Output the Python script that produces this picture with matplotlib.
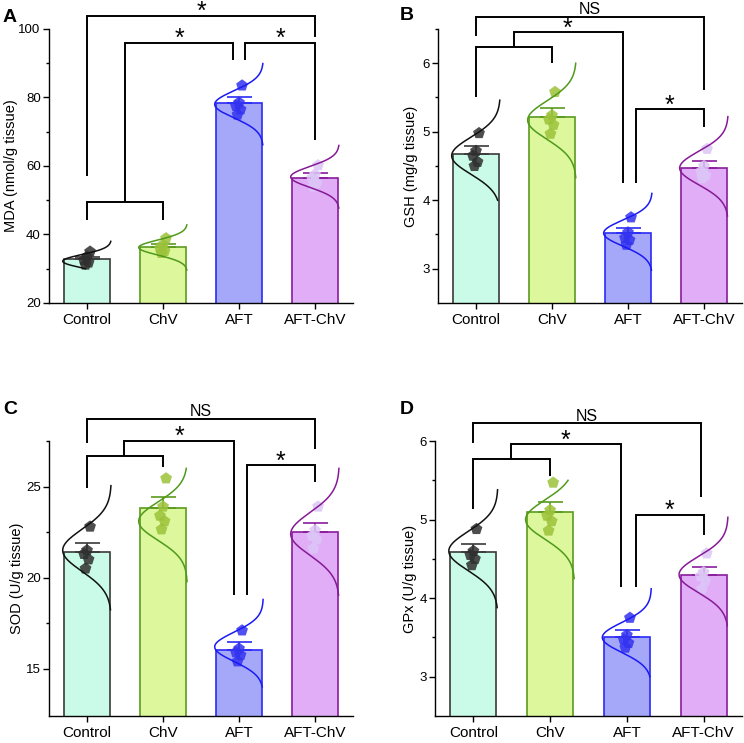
import numpy as np
import matplotlib.pyplot as plt

plt.rcParams['font.family'] = ['Liberation Sans', 'DejaVu Sans']

groups = ['Control', 'ChV', 'AFT', 'AFT-ChV']
fill_colors = ['#c9fbe8', '#ddf79c', '#a5a8f8', '#e0adf6']
edge_colors = ['#3a3a3a', '#5b9a1e', '#2b2bf5', '#8a1c9c']
curve_colors = ['#111111', '#4f9a1a', '#1a1af5', '#861a96']
point_colors = ['#2f2f2f', '#9cc23a', '#3333f0', '#dcc6f6']

# MDA (panel A)
mda_mean = [32.7, 36.3, 78.3, 56.5]
mda_err = [0.7, 0.9, 1.8, 1.4]
mda_points = [[35.0, 33.5, 32.5, 31.8, 31.2],
              [38.9, 37.0, 36.0, 35.2, 34.6],
              [83.5, 78.5, 77.5, 76.5, 75.0],
              [60.2, 57.5, 56.5, 55.0, 54.0]]
mda_curve_mu = [32.2, 36.2, 78.0, 56.8]
mda_curve_sd = [1.95, 2.2, 3.95, 3.05]
mda_curve_lo = [30.0, 29.6, 66.2, 47.7]
mda_curve_hi = [38.0, 42.8, 89.9, 66.0]

# GSH (panel B)
gsh_mean = [4.68, 5.22, 3.52, 4.47]
gsh_err = [0.11, 0.12, 0.08, 0.10]
gsh_points = [[4.98, 4.72, 4.65, 4.56, 4.50],
              [5.58, 5.24, 5.18, 5.10, 4.97],
              [3.75, 3.53, 3.45, 3.42, 3.35],
              [4.75, 4.50, 4.42, 4.36, 4.32]]
gsh_curve_mu = [4.65, 5.17, 3.52, 4.47]
gsh_curve_sd = [0.27, 0.28, 0.19, 0.245]
gsh_curve_lo = [4.0, 4.33, 2.98, 3.77]
gsh_curve_hi = [5.46, 6.0, 4.10, 5.22]

# SOD (panel C)
sod_mean = [21.42, 23.82, 16.05, 22.5]
sod_err = [0.5, 0.6, 0.4, 0.5]
sod_points = [[22.8, 21.5, 21.3, 21.0, 20.5],
              [25.45, 23.9, 23.4, 23.1, 22.65],
              [17.1, 16.1, 15.9, 15.75, 15.4],
              [23.9, 22.6, 22.3, 22.1, 21.6]]
sod_curve_mu = [21.5, 23.1, 16.2, 22.4]
sod_curve_sd = [1.15, 1.05, 0.8, 1.17]
sod_curve_lo = [18.24, 19.78, 14.0, 19.04]
sod_curve_hi = [25.05, 26.0, 18.8, 26.0]

# GPx (panel D)
gpx_mean = [4.59, 5.10, 3.51, 4.30]
gpx_err = [0.10, 0.13, 0.09, 0.10]
gpx_points = [[4.88, 4.60, 4.55, 4.50, 4.42],
              [5.47, 5.12, 5.05, 4.98, 4.86],
              [3.75, 3.53, 3.47, 3.43, 3.37],
              [4.57, 4.33, 4.28, 4.22, 4.12]]
gpx_curve_mu = [4.6, 5.0, 3.5, 4.3]
gpx_curve_sd = [0.25, 0.25, 0.19, 0.23]
gpx_curve_lo = [3.88, 4.25, 3.0, 3.65]
gpx_curve_hi = [5.38, 5.50, 4.12, 5.03]

jitter = [0.04, 0.0, -0.04, 0.02, -0.02]


def bracket(ax, pts):
    xs, ys = zip(*pts)
    ax.plot(xs, ys, color='black', lw=1.4, clip_on=False,
            solid_joinstyle='miter', solid_capstyle='butt', zorder=5)


def sig(ax, text, x, y):
    if text == '*':
        ax.annotate(text, (x, y), xytext=(0, -6), textcoords='offset points',
                    ha='center', va='bottom', fontsize=18, annotation_clip=False)
    else:
        ax.annotate(text, (x, y), xytext=(0, -0.5), textcoords='offset points',
                    ha='center', va='bottom', fontsize=11.5, annotation_clip=False)


def draw_panel(ax, mean, err, points, mu, sd, lo, hi, ylim, major, minor,
               ylabel, label_x):
    x = np.arange(len(groups))
    ax.bar(x, mean, width=0.6, color=fill_colors, edgecolor=edge_colors,
           linewidth=1.2, zorder=2)
    for i in range(len(groups)):
        ax.errorbar(x[i], mean[i], yerr=[[0], [err[i]]], fmt='none',
                    ecolor=edge_colors[i], elinewidth=1.2, capsize=9,
                    capthick=1.2, zorder=3)
        ax.scatter(x[i] + np.array(jitter[:len(points[i])]), points[i],
                   marker='p', s=80, color=point_colors[i], alpha=0.85,
                   edgecolors='none', zorder=4)
        yy = np.linspace(lo[i], hi[i], 200)
        z = (yy - mu[i]) / sd[i]
        xx = x[i] + 0.32 - 0.64 * np.exp(-z ** 2 / 2)
        ax.plot(xx, yy, color=curve_colors[i], lw=1.1, zorder=4)
    ax.set_xlim(-0.5, 3.5)
    ax.set_ylim(*ylim)
    ax.set_xticks(x)
    ax.set_xticklabels(groups, fontsize=11)
    ax.set_yticks(major)
    ax.set_yticks(minor, minor=True)
    ax.tick_params(axis='y', labelsize=9.5, length=4, width=1, pad=2)
    ax.tick_params(axis='y', which='minor', length=2.5, width=1)
    ax.tick_params(axis='x', length=4, width=1)
    ax.set_ylabel(ylabel, fontsize=10.5)
    ax.yaxis.set_label_coords(label_x, 0.5)
    for s in ['top', 'right']:
        ax.spines[s].set_visible(False)
    for s in ['left', 'bottom']:
        ax.spines[s].set_linewidth(1.0)


fig = plt.figure(figsize=(7.44, 7.43), dpi=100)

axA = fig.add_axes([0.0659, 0.5922, 0.4086, 0.3688])
axB = fig.add_axes([0.5887, 0.5922, 0.4086, 0.3688])
axC = fig.add_axes([0.0659, 0.0363, 0.4086, 0.3701])
axD = fig.add_axes([0.5847, 0.0363, 0.4126, 0.3701])

draw_panel(axA, mda_mean, mda_err, mda_points, mda_curve_mu, mda_curve_sd,
           mda_curve_lo, mda_curve_hi, (20, 100), [20, 40, 60, 80, 100],
           [30, 50, 70, 90], 'MDA (nmol/g tissue)', -0.102)
draw_panel(axB, gsh_mean, gsh_err, gsh_points, gsh_curve_mu, gsh_curve_sd,
           gsh_curve_lo, gsh_curve_hi, (2.5, 6.5), [3, 4, 5, 6],
           [3.5, 4.5, 5.5, 6.5], 'GSH (mg/g tissue)', -0.066)
draw_panel(axC, sod_mean, sod_err, sod_points, sod_curve_mu, sod_curve_sd,
           sod_curve_lo, sod_curve_hi, (12.4, 27.5), [15, 20, 25],
           [17.5, 22.5, 27.5], 'SOD (U/g tissue)', -0.082)
draw_panel(axD, gpx_mean, gpx_err, gpx_points, gpx_curve_mu, gpx_curve_sd,
           gpx_curve_lo, gpx_curve_hi, (2.5, 6.0), [3, 4, 5, 6],
           [3.5, 4.5, 5.5], 'GPx (U/g tissue)', -0.06)

# significance brackets
bracket(axA, [(0, 44.3), (0, 49.5), (1, 49.5), (1, 44.3)])
bracket(axA, [(0.5, 49.5), (0.5, 96.0), (1.92, 96.0), (1.92, 91.0)])
bracket(axA, [(2.08, 91.0), (2.08, 96.0), (3, 96.0), (3, 67.6)])
bracket(axA, [(0, 57.1), (0, 103.8), (3, 103.8), (3, 97.6)])
sig(axA, '*', 1.21, 96.0)
sig(axA, '*', 2.54, 96.0)
sig(axA, '*', 1.5, 103.8)

bracket(axB, [(0, 5.50), (0, 6.23), (1, 6.23), (1, 6.0)])
bracket(axB, [(0.5, 6.23), (0.5, 6.45), (1.93, 6.45), (1.93, 4.25)])
bracket(axB, [(2.1, 4.25), (2.1, 5.33), (3, 5.33), (3, 5.07)])
bracket(axB, [(0, 6.40), (0, 6.68), (3, 6.68), (3, 5.61)])
sig(axB, '*', 1.21, 6.45)
sig(axB, '*', 2.55, 5.33)
sig(axB, 'NS', 1.5, 6.68)

bracket(axC, [(0, 24.9), (0, 26.69), (1, 26.69), (1, 26.1)])
bracket(axC, [(0.49, 26.69), (0.49, 27.51), (1.93, 27.51), (1.93, 19.04)])
bracket(axC, [(2.1, 19.04), (2.1, 26.18), (3, 26.18), (3, 25.27)])
bracket(axC, [(0, 27.4), (0, 28.73), (3, 28.73), (3, 27.05)])
sig(axC, '*', 1.21, 27.51)
sig(axC, '*', 2.55, 26.18)
sig(axC, 'NS', 1.5, 28.73)

bracket(axD, [(0, 5.14), (0, 5.77), (1, 5.77), (1, 5.55)])
bracket(axD, [(0.49, 5.77), (0.49, 5.96), (1.92, 5.96), (1.92, 4.14)])
bracket(axD, [(2.12, 4.14), (2.12, 5.06), (3, 5.06), (3, 4.81)])
bracket(axD, [(0, 5.97), (0, 6.23), (2.97, 6.23), (2.97, 5.29)])
sig(axD, '*', 1.2, 5.96)
sig(axD, '*', 2.56, 5.06)
sig(axD, 'NS', 1.48, 6.23)

for label, xf, yf in [('A', 10, 17), ('B', 407, 16), ('C', 10, 410), ('D', 407, 410)]:
    fig.text(xf / 744, 1 - yf / 743, label, fontsize=14, fontweight='bold',
             ha='center', va='center')

fig.savefig('out.png', dpi=100)
